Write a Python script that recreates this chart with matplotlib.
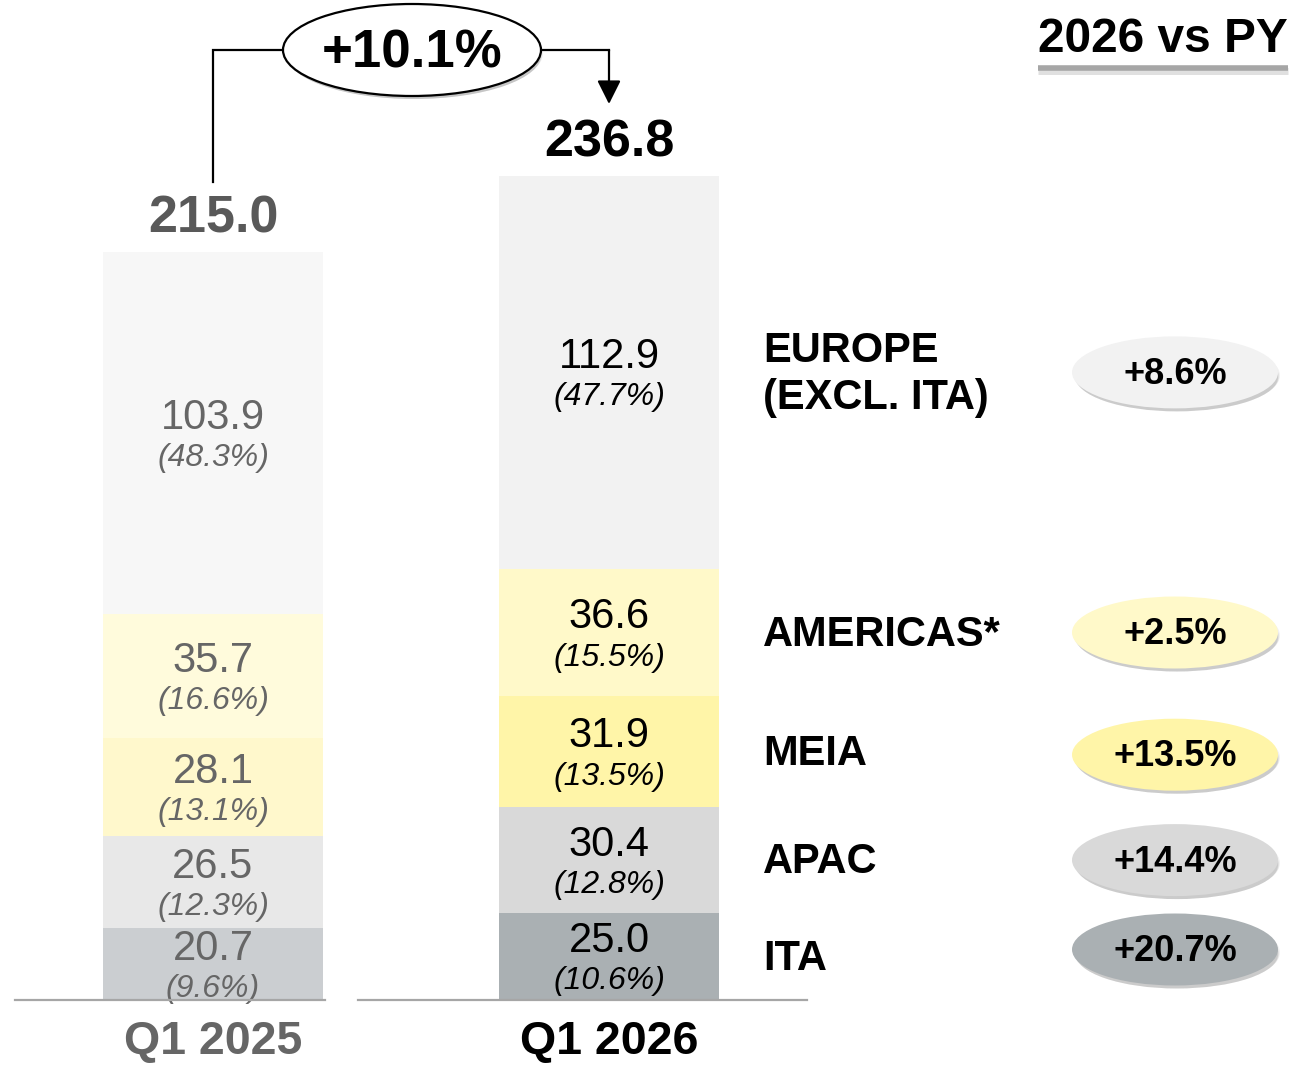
import matplotlib
matplotlib.use("Agg")
import matplotlib.pyplot as plt
from matplotlib.patches import Ellipse, FancyArrowPatch

plt.rcParams['font.family'] = ['Liberation Sans', 'DejaVu Sans']

# ---------------- data ----------------
periods = ["Q1 2025", "Q1 2026"]
regions = ["ITA", "APAC", "MEIA", "AMERICAS*", "EUROPE\n(EXCL. ITA)"]
values_2025 = [20.7, 26.5, 28.1, 35.7, 103.9]
values_2026 = [25.0, 30.4, 31.9, 36.6, 112.9]
shares_2025 = ["(9.6%)", "(12.3%)", "(13.1%)", "(16.6%)", "(48.3%)"]
shares_2026 = ["(10.6%)", "(12.8%)", "(13.5%)", "(15.5%)", "(47.7%)"]
totals = [215.0, 236.8]
total_growth = "+10.1%"
region_growth = ["+20.7%", "+14.4%", "+13.5%", "+2.5%", "+8.6%"]

colors_2025 = ["#cbced1", "#e8e8e8", "#fff8cc", "#fffbdc", "#f7f7f7"]
colors_2026 = ["#aab0b3", "#d9d9d9", "#fff5a8", "#fff9c9", "#f2f2f2"]
pill_colors = ["#aab0b3", "#d9d9d9", "#fff5a8", "#fff9c9", "#f2f2f2"]

# ---------------- figure ----------------
W, H = 1311, 1065
fig = plt.figure(figsize=(W / 100, H / 100), dpi=100)
ax = fig.add_axes([0, 0, 1, 1])
PXX = 396.0    # pixels per category unit
PXY = 3.48     # pixels per value unit
X0, Y0 = 213.0, 1000.0   # pixel of (0, 0)
ax.set_xlim(-X0 / PXX, (W - X0) / PXX)
ax.set_ylim(-(H - Y0) / PXY, Y0 / PXY)
ax.axis("off")

def dx(px):
    return px / PXX

def dy(px):
    return px / PXY

bar_w = dx(220)
xs = [0, 1]
all_vals = [values_2025, values_2026]
all_cols = [colors_2025, colors_2026]
all_shares = [shares_2025, shares_2026]
txt_cols = ["#666666", "#000000"]

for i, x in enumerate(xs):
    bottom = 0.0
    for v, c, s in zip(all_vals[i], all_cols[i], all_shares[i]):
        ax.bar(x, v, bottom=bottom, width=bar_w, color=c, edgecolor="none", zorder=2)
        mid = bottom + v / 2
        ax.annotate(f"{v:.1f}", (x, mid), xytext=(0, 11), textcoords="offset points",
                    ha="center", va="center", fontsize=30, color=txt_cols[i], zorder=3)
        ax.annotate(s, (x, mid), xytext=(0, -18), textcoords="offset points",
                    ha="center", va="center", fontsize=23, style="italic",
                    color=txt_cols[i], zorder=3)
        bottom += v

# totals
tot_cols = ["#595959", "#000000"]
for i, x in enumerate(xs):
    ax.annotate(f"{totals[i]:.1f}", (x, totals[i]), xytext=(0, 23.5), textcoords="offset points",
                ha="center", va="center", fontsize=37.5, fontweight="bold", color=tot_cols[i])

# period labels
per_cols = ["#666666", "#000000"]
for i, x in enumerate(xs):
    ax.annotate(periods[i], (x, 0), xytext=(0, -30.5), textcoords="offset points",
                ha="center", va="center", fontsize=33.5, fontweight="bold", color=per_cols[i])

# baselines
ax.plot([dx(15 - X0), dx(325 - X0)], [0, 0], color="#a6a6a6", lw=1.6, zorder=4)
ax.plot([dx(358 - X0), dx(807 - X0)], [0, 0], color="#a6a6a6", lw=1.6, zorder=4)

# region labels and growth pills, aligned with Q1 2026 segments
label_x = dx(763 - X0)
pill_x = dx(1175 - X0)
pill_off = [7, 0, -3, 0, 0]
bottom = 0.0
for k, v in enumerate(values_2026):
    mid = bottom + v / 2
    ax.text(label_x, mid - dy(2), regions[k], ha="left", va="center", fontsize=30,
            fontweight="bold", color="#000000", linespacing=1.22)
    py = mid + dy(pill_off[k])
    for j, a in enumerate([0.05, 0.07, 0.09]):
        sh = Ellipse((pill_x + dx(2), py - dy(3 + j)), dx(206 - 2 * j), dy(72 - 2 * j),
                     facecolor="#000000", alpha=a, edgecolor="none", zorder=4)
        ax.add_patch(sh)
    e = Ellipse((pill_x, py), dx(206), dy(72), facecolor=pill_colors[k],
                edgecolor="none", zorder=5)
    ax.add_patch(e)
    ax.text(pill_x, py - dy(2), region_growth[k], ha="center", va="center", fontsize=26,
            fontweight="bold", color="#000000", zorder=6)
    bottom += v

# top connector with total growth ellipse
conn_y = dy(Y0 - 50)
left_start = totals[0] + dy(70)
ell_cx = dx(412 - X0)
ell_w, ell_h = dx(258), dy(92)
ax.plot([xs[0], xs[0], ell_cx - ell_w / 2], [left_start, conn_y, conn_y],
        color="#000000", lw=1.6, zorder=4, solid_joinstyle="miter")
ax.plot([ell_cx + ell_w / 2, xs[1]], [conn_y, conn_y], color="#000000", lw=1.6, zorder=4)
arr = FancyArrowPatch((xs[1], conn_y), (xs[1], conn_y - dy(54)),
                      arrowstyle="-|>,head_length=9,head_width=4.5", mutation_scale=1.6,
                      color="#000000", lw=1.6, shrinkA=0, shrinkB=0, zorder=4)
ax.add_patch(arr)
for j, a in enumerate([0.06, 0.08, 0.10]):
    ax.add_patch(Ellipse((ell_cx + dx(2), conn_y - dy(3 + j)), ell_w - dx(2 * j), ell_h - dy(2 * j),
                         facecolor="#000000", alpha=a, edgecolor="none", zorder=4))
ax.add_patch(Ellipse((ell_cx, conn_y), ell_w, ell_h, facecolor="#ffffff",
                     edgecolor="#000000", lw=1.6, zorder=5))
ax.text(ell_cx, conn_y - dy(3), total_growth, ha="center", va="center", fontsize=38,
        fontweight="bold", color="#000000", zorder=6)

# "2026 vs PY" header with underline
hx = dx(1163 - X0)
ax.text(hx, dy(Y0 - 40), "2026 vs PY", ha="center", va="center", fontsize=34.5,
        fontweight="bold", color="#000000")
ax.plot([dx(1038 - X0), dx(1288 - X0)], [dy(Y0 - 71), dy(Y0 - 71)], color="#e0e0e0",
        lw=5, zorder=3, solid_capstyle="butt")
ax.plot([dx(1038 - X0), dx(1288 - X0)], [dy(Y0 - 68), dy(Y0 - 68)], color="#a6a6a6",
        lw=4, zorder=4, solid_capstyle="butt")

fig.savefig("out.png", dpi=100)
